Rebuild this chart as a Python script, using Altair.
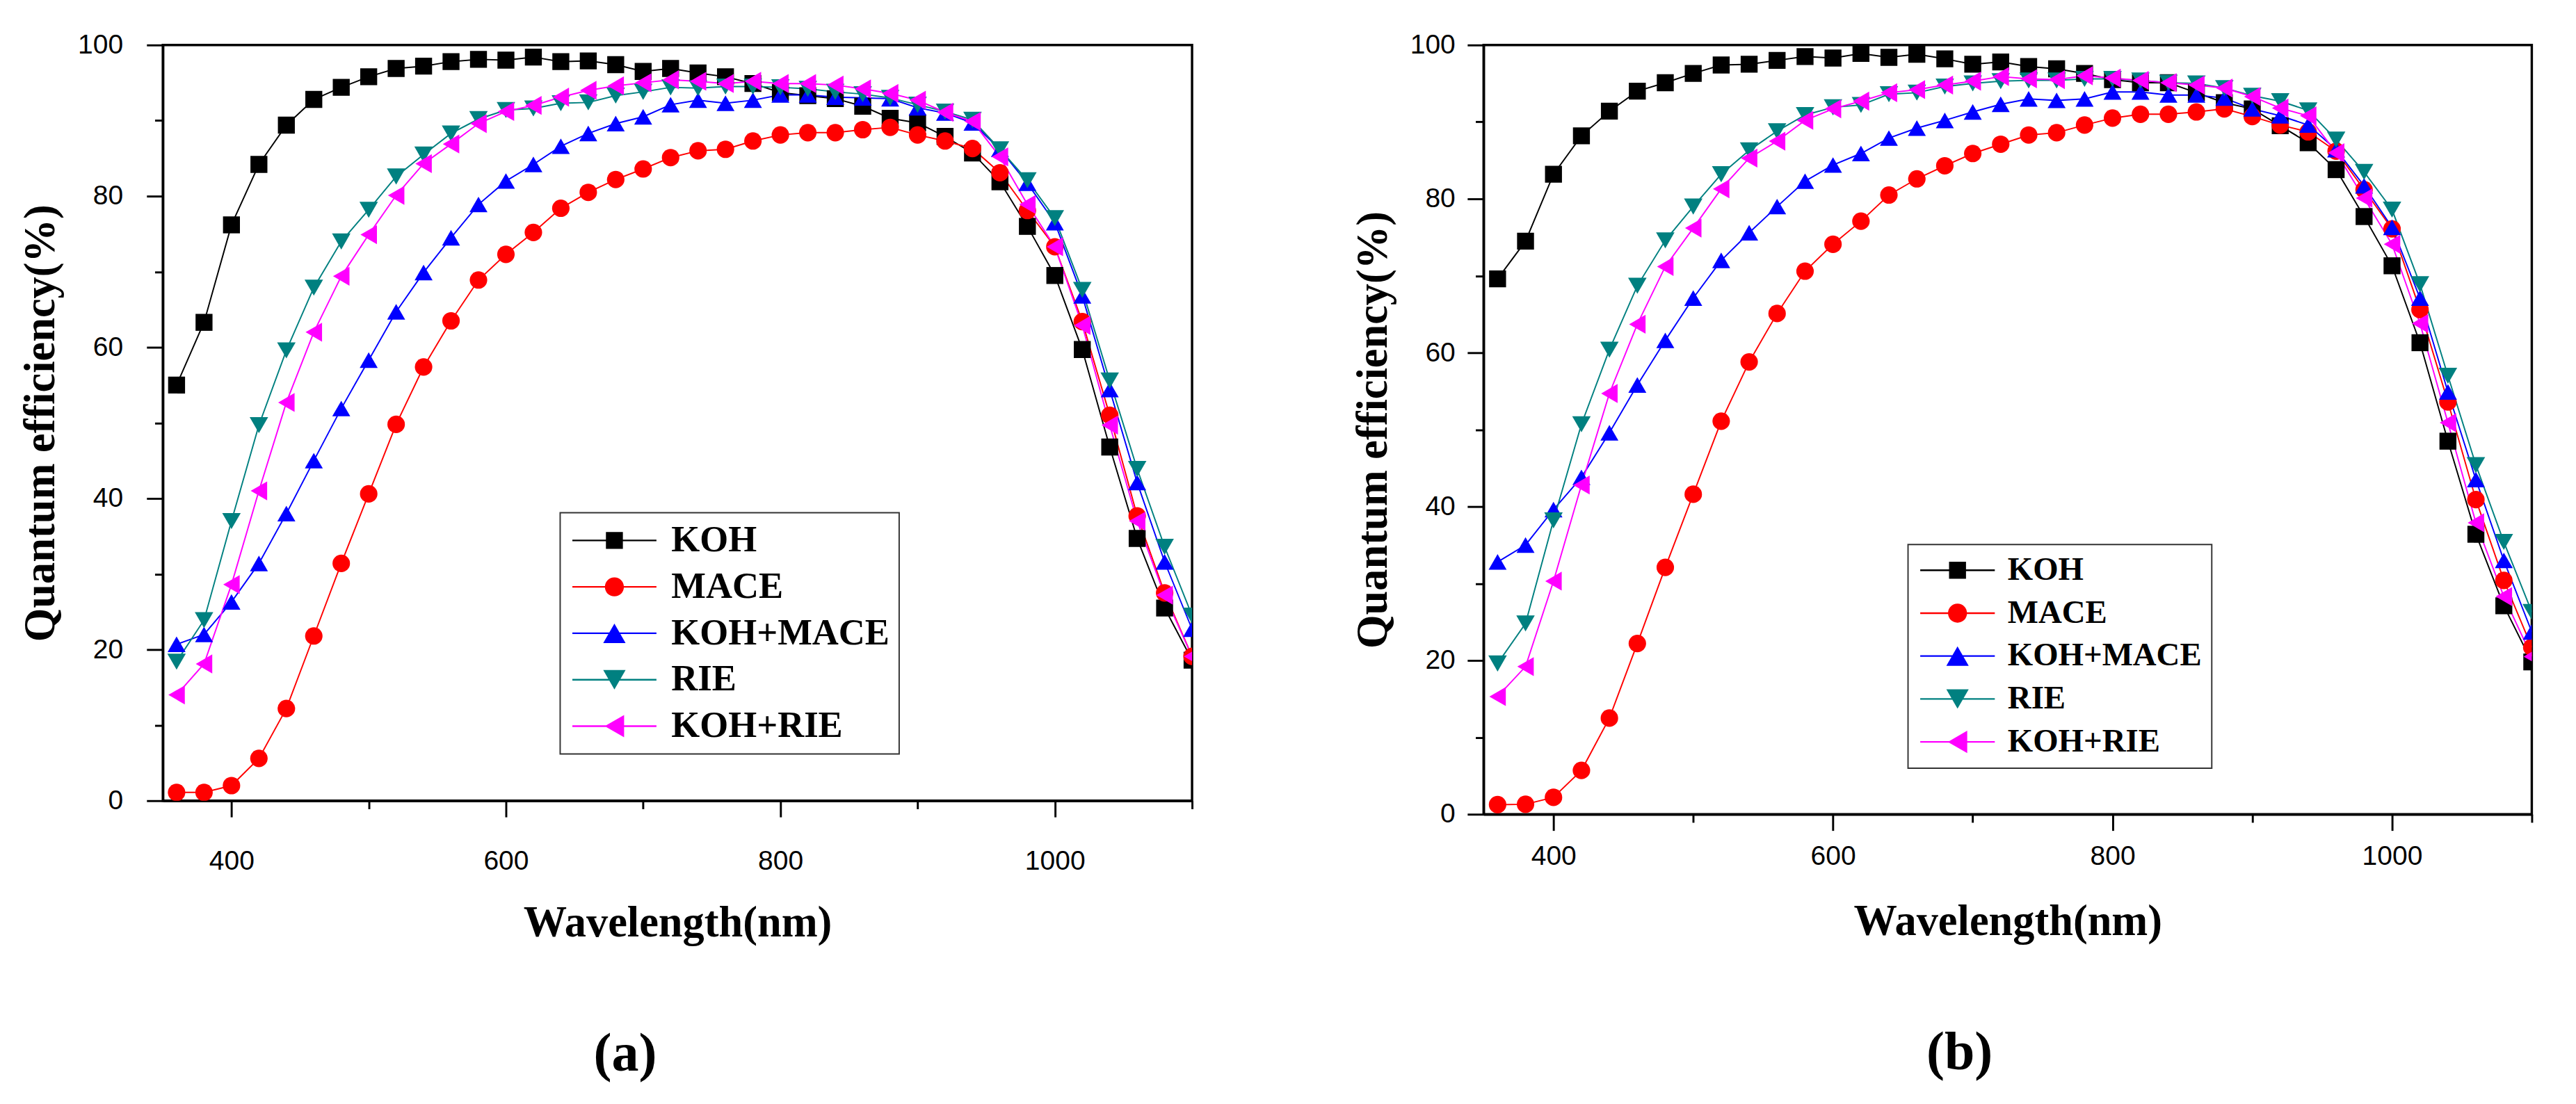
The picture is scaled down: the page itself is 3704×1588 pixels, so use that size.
import altair as alt
import pandas as pd

# ---------------- data ----------------
wavelength = [360, 380, 400, 420, 440, 460, 480, 500, 520, 540, 560, 580, 600, 620, 640,
              660, 680, 700, 720, 740, 760, 780, 800, 820, 840, 860, 880, 900, 920, 940,
              960, 980, 1000, 1020, 1040, 1060, 1080, 1100]

series_names = ["KOH", "MACE", "KOH+MACE", "RIE", "KOH+RIE"]
series_colors = ["#000000", "#FF0000", "#0000FF", "#008080", "#FF00FF"]

# panel (a)
a_koh = [55.0, 63.3, 76.2, 84.2, 89.4, 92.8, 94.4, 95.8, 96.9, 97.2, 97.8, 98.1, 98.0, 98.4, 97.8,
         97.9, 97.4, 96.5, 96.9, 96.3, 95.8, 94.9, 93.7, 93.3, 92.9, 91.9, 90.3, 89.7, 87.9, 85.7,
         81.9, 76.0, 69.5, 59.7, 46.8, 34.7, 25.5, 18.6]
a_mace = [1.1, 1.1, 2.0, 5.6, 12.2, 21.8, 31.4, 40.6, 49.8, 57.4, 63.5, 68.9, 72.3, 75.2, 78.4,
          80.5, 82.2, 83.6, 85.1, 86.0, 86.2, 87.3, 88.1, 88.4, 88.4, 88.8, 89.1, 88.1, 87.3, 86.3,
          83.1, 78.1, 73.3, 63.4, 51.0, 37.7, 27.5, 19.1]
a_koh_mace = [20.7, 22.0, 26.3, 31.4, 38.0, 45.0, 51.9, 58.3, 64.7, 69.9, 74.5, 78.9, 82.0, 84.2, 86.6,
              88.3, 89.6, 90.5, 92.1, 92.7, 92.3, 92.7, 93.4, 93.4, 93.1, 93.0, 92.9, 91.7, 91.0, 89.7,
              86.2, 81.7, 76.5, 66.8, 54.4, 42.1, 31.6, 22.7]
a_rie = [18.4, 23.9, 37.0, 49.7, 59.6, 67.9, 74.0, 78.2, 82.6, 85.5, 88.3, 90.2, 91.4, 91.6, 92.3,
         92.4, 93.3, 93.8, 94.4, 94.3, 94.5, 94.5, 94.4, 94.2, 93.8, 93.5, 93.0, 92.1, 91.2, 90.1,
         86.2, 82.1, 77.1, 67.6, 55.6, 43.9, 33.6, 24.5]
a_koh_rie = [14.0, 18.1, 28.6, 41.0, 52.7, 62.0, 69.4, 74.9, 80.1, 84.3, 86.9, 89.6, 91.2, 92.0, 93.1,
             94.0, 94.6, 95.0, 95.4, 95.2, 94.9, 95.2, 94.9, 94.9, 94.7, 94.2, 93.6, 92.7, 91.1, 89.9,
             85.2, 78.9, 73.3, 62.9, 49.7, 37.0, 27.2, 19.1]

# panel (b)
b_koh = [69.6, 74.5, 83.2, 88.2, 91.4, 94.0, 95.1, 96.3, 97.4, 97.5, 98.0, 98.5, 98.3, 98.9, 98.4,
         98.8, 98.2, 97.5, 97.8, 97.2, 96.9, 96.3, 95.5, 95.1, 95.1, 93.8, 92.5, 91.7, 89.5, 87.3,
         83.8, 77.7, 71.3, 61.3, 48.5, 36.4, 27.1, 19.8]
b_mace = [1.25, 1.3, 2.2, 5.7, 12.5, 22.2, 32.1, 41.6, 51.1, 58.8, 65.1, 70.6, 74.1, 77.1, 80.5,
          82.6, 84.3, 85.9, 87.1, 88.3, 88.6, 89.6, 90.5, 91.0, 91.0, 91.3, 91.7, 90.7, 89.6, 88.7,
          86.2, 81.2, 76.1, 65.6, 53.6, 40.9, 30.4, 21.7]
b_koh_mace = [32.8, 35.0, 39.6, 43.8, 49.6, 55.8, 61.6, 67.1, 72.0, 75.6, 79.0, 82.3, 84.4, 85.9, 87.9,
              89.2, 90.2, 91.3, 92.3, 93.0, 92.8, 93.0, 93.9, 93.9, 93.5, 93.5, 93.1, 91.7, 90.8, 89.6,
              86.4, 81.7, 76.3, 67.1, 54.9, 43.5, 33.0, 23.7]
b_rie = [19.6, 24.8, 38.2, 50.7, 60.4, 68.7, 74.6, 79.0, 83.2, 86.3, 88.8, 90.9, 91.9, 92.2, 93.6,
         93.8, 94.6, 95.0, 95.3, 95.4, 95.4, 95.6, 95.6, 95.4, 95.1, 95.0, 94.4, 93.4, 92.7, 91.5,
         87.7, 83.5, 78.6, 68.9, 57.0, 45.4, 35.4, 26.3]
b_koh_rie = [15.3, 19.2, 30.3, 42.8, 54.7, 63.7, 71.2, 76.2, 81.3, 85.3, 87.5, 90.2, 91.7, 92.7, 93.8,
             94.2, 94.8, 95.3, 95.9, 95.6, 95.5, 96.0, 95.7, 95.4, 95.1, 94.8, 94.4, 93.3, 91.8, 90.8,
             86.0, 80.1, 74.1, 63.8, 50.9, 37.9, 28.3, 20.5]

x_tick_values = [400, 500, 600, 700, 800, 900, 1000, 1100]
y_tick_values = [0, 10, 20, 30, 40, 50, 60, 70, 80, 90, 100]

# ---------------- styling ----------------
marker_shapes = ["square", "circle", "triangle-up", "triangle-down", "triangle-left"]
marker_sizes = [625, 784, 900, 900, 900]

SANS = "Liberation Sans"
SERIF = "Liberation Serif"


def legend_paths(half_line):
    bar = f"M-{half_line},-0.06H{half_line}V0.06H-{half_line}Z"
    return [
        bar + "M-0.625,-0.625H0.625V0.625H-0.625Z",
        bar + "M-0.7,0A0.7,0.7 0 1,1 0.7,0A0.7,0.7 0 1,1 -0.7,0Z",
        bar + "M0,-0.715L0.825,0.715H-0.825Z",
        bar + "M0,0.715L-0.825,-0.715H0.825Z",
        bar + "M-0.715,0L0.715,-0.825V0.825Z",
    ]


def make_df(values):
    rows = []
    for k, (name, vals) in enumerate(zip(series_names, values)):
        for w, v in zip(wavelength, vals):
            rows.append({"series": name, "order": k, "wl": w, "qe": v})
    return pd.DataFrame(rows)


def panel(values, w, h, cap, x_lab_pad, x_title_pad, y_lab_pad, y_title_pad,
          leg_x, leg_y, leg_font, leg_row_pad, half_line, sym_off, lab_off, cap_offset, cap_dx):
    df = make_df(values)
    cscale = alt.Scale(domain=series_names, range=series_colors)
    x_enc = alt.X("wl:Q", scale=alt.Scale(domain=[350, 1100], nice=False, zero=False),
                  axis=alt.Axis(values=x_tick_values, title="Wavelength(nm)", format="d",
                                labelExpr="datum.value % 200 === 0 ? datum.label : ''",
                                tickSize={"condition": {"test": "datum.value % 200 === 0", "value": 24}, "value": 12},
                                labelPadding=x_lab_pad, titlePadding=x_title_pad))
    y_enc = alt.Y("qe:Q", scale=alt.Scale(domain=[0, 100], nice=False),
                  axis=alt.Axis(values=y_tick_values, title="Quantum efficiency(%)", format="d",
                                labelExpr="datum.value % 20 === 0 ? datum.label : ''",
                                tickSize={"condition": {"test": "datum.value % 20 === 0", "value": 24}, "value": 12},
                                labelPadding=y_lab_pad, titlePadding=y_title_pad))

    lines = alt.Chart(df).mark_line(strokeWidth=2, clip=True).encode(
        x=x_enc, y=y_enc,
        color=alt.Color("series:N", scale=cscale, legend=None),
        order=alt.Order("wl:Q"),
    )
    points = alt.Chart(df).mark_point(filled=True, opacity=1, clip=True).encode(
        x=x_enc, y=y_enc,
        color=alt.Color("series:N", scale=cscale, legend=None),
        shape=alt.Shape("series:N", scale=alt.Scale(domain=series_names, range=marker_shapes), legend=None),
        size=alt.Size("series:N", scale=alt.Scale(domain=series_names, range=marker_sizes), legend=None),
        order=alt.Order("order:Q"),
    )
    leg = alt.Legend(orient="none", legendX=leg_x, legendY=leg_y, title=None,
                     labelFont=SERIF, labelFontWeight="bold", labelFontSize=leg_font,
                     labelColor="black", symbolSize=1600, symbolOpacity=1, symbolStrokeWidth=0,
                     symbolOffset=sym_off, labelOffset=lab_off, rowPadding=leg_row_pad,
                     padding=14, strokeColor="#333333", fillColor="white", labelLimit=0)
    legend_layer = alt.Chart(df).mark_point(filled=True, opacity=0, size=1600).encode(
        x=x_enc, y=y_enc,
        color=alt.Color("series:N", scale=cscale, legend=leg),
        shape=alt.Shape("series:N", scale=alt.Scale(domain=series_names, range=legend_paths(half_line)),
                        legend=leg),
    )
    return alt.layer(lines, points, legend_layer).resolve_scale(
        color="independent", shape="independent", size="independent"
    ).properties(
        width=w, height=h,
        title=alt.TitleParams(cap, orient="bottom", anchor="middle", font=SERIF, fontSize=80,
                              fontWeight="bold", color="black", offset=cap_offset, dx=cap_dx),
    )


pa = panel([a_koh, a_mace, a_koh_mace, a_rie, a_koh_rie], 1518, 1115, "(a)",
           x_lab_pad=45, x_title_pad=40, y_lab_pad=35, y_title_pad=22,
           leg_x=586, leg_y=690, leg_font=54, leg_row_pad=14.5, half_line=3.1,
           sym_off=39, lab_off=57, cap_offset=122, cap_dx=-77)
pb = panel([b_koh, b_mace, b_koh_mace, b_rie, b_koh_rie], 1546, 1135, "(b)",
           x_lab_pad=18, x_title_pad=45, y_lab_pad=18, y_title_pad=22,
           leg_x=626, leg_y=737, leg_font=48, leg_row_pad=15.3, half_line=2.75,
           sym_off=35, lab_off=50, cap_offset=122, cap_dx=-71)

chart = alt.hconcat(pa, pb, spacing=169).properties(
    padding={"left": 18, "top": 16, "right": 0, "bottom": 0}
).configure_view(
    stroke="black", strokeWidth=3.5
).configure_axis(
    grid=False, domainColor="black", domainWidth=3.5, tickColor="black", tickWidth=3,
    labelFont=SANS, labelFontSize=40, labelColor="black",
    titleFont=SERIF, titleFontSize=64, titleFontWeight="bold", titleColor="black",
).configure_legend(
    strokeWidth=2
)

chart.save("out.html", embed_options={"renderer": "svg", "actions": False})
